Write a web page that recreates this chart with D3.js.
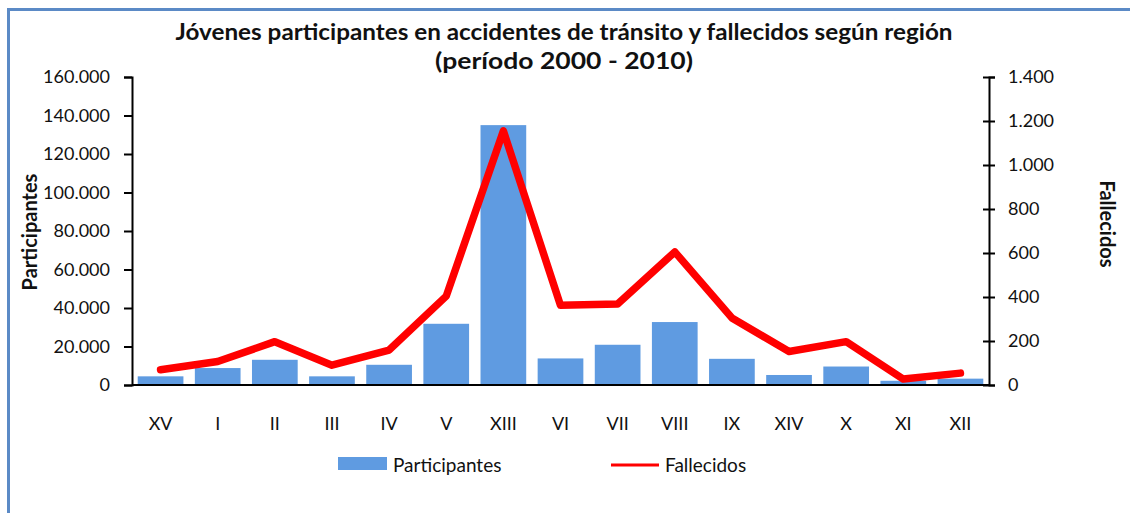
<!DOCTYPE html>
<html>
<head>
<meta charset="utf-8">
<script src="https://cdn.jsdelivr.net/npm/d3@7"></script>
<style>
  body { margin: 0; background: #fff; }
  svg { font-family: Lato, "Open Sans", sans-serif; }
</style>
</head>
<body>
<script>
// regions, in the order of the chart
var regiones = ["XV", "I", "II", "III", "IV", "V", "XIII", "VI", "VII", "VIII", "IX", "XIV", "X", "XI", "XII"];
var participantes = [4500, 8800, 13100, 4500, 10500, 31800, 135000, 13800, 20900, 32700, 13600, 5200, 9600, 2200, 3300];
var fallecidos = [69, 107, 197, 90, 159, 404, 1155, 362, 368, 605, 305, 152, 197, 27, 54];
var leftTicks = [0, 20000, 40000, 60000, 80000, 100000, 120000, 140000, 160000];
var rightTicks = [0, 200, 400, 600, 800, 1000, 1200, 1400];

var W = 1130, H = 513;
var margin = {top: 77, right: 141, bottom: 128, left: 132},
    width = W - margin.left - margin.right,
    height = H - margin.top - margin.bottom;

// thousands with a dot, like the original
var fmt = function(v){ return d3.format(",")(v).replace(/,/g, "."); };

var svg = d3.select("body").append("svg")
    .attr("width", W).attr("height", H);

// frame
svg.append("rect")
    .attr("x", 8.5).attr("y", 9.5)
    .attr("width", W + 20).attr("height", H + 20)
    .attr("fill", "none").attr("stroke", "#5b8ac6").attr("stroke-width", 3);

var title = svg.append("text")
    .attr("text-anchor", "middle")
    .attr("font-weight", "bold").attr("font-size", 23).attr("fill", "#111");
title.append("tspan").attr("x", 564).attr("y", 40)
    .attr("textLength", 777).attr("lengthAdjust", "spacingAndGlyphs")
    .text("Jóvenes participantes  en accidentes  de tránsito y fallecidos  según región");
title.append("tspan").attr("x", 564).attr("y", 69)
    .attr("textLength", 258).attr("lengthAdjust", "spacingAndGlyphs")
    .text("(período 2000 - 2010)");

var g = svg.append("g")
    .attr("transform", "translate(" + margin.left + "," + margin.top + ")");

var x = d3.scaleBand().domain(regiones).range([0, width]).paddingInner(0.2).paddingOuter(0.1);
var yL = d3.scaleLinear().domain([0, 160000]).range([height, 0]);
var yR = d3.scaleLinear().domain([0, 1400]).range([height, 0]);

// bars
g.selectAll(".bar").data(participantes)
  .enter().append("rect").attr("class", "bar")
    .attr("x", function(d, i){ return x(regiones[i]); })
    .attr("y", function(d){ return yL(d); })
    .attr("width", x.bandwidth())
    .attr("height", function(d){ return height - yL(d); })
    .attr("fill", "#5f9be1");

// left axis
var axL = g.append("g").attr("class", "axis")
    .call(d3.axisLeft(yL).tickValues(leftTicks).tickFormat(fmt).tickSize(8).tickPadding(14));
// right axis
var axR = g.append("g").attr("class", "axis")
    .attr("transform", "translate(" + width + ",0)")
    .call(d3.axisRight(yR).tickValues(rightTicks).tickFormat(fmt).tickSize(6).tickPadding(13));
axR.selectAll(".tick line").attr("x1", -6);

// x axis line at zero
var axX = g.append("g").attr("class", "axis")
    .attr("transform", "translate(0," + height + ")")
    .call(d3.axisBottom(x).tickSize(0).tickPadding(32));

g.selectAll(".axis .domain").attr("stroke", "#000").attr("stroke-width", 2);
g.selectAll(".axis .tick line").attr("stroke", "#000").attr("stroke-width", 2);
g.selectAll(".axis text").attr("font-size", 18).attr("fill", "#111")
    .attr("font-family", "Lato, sans-serif");
axX.select(".domain").attr("d", "M0,0H" + width);

// line
var line = d3.line()
    .x(function(d, i){ return x(regiones[i]) + x.bandwidth() / 2; })
    .y(function(d){ return yR(d); });
g.append("path").datum(fallecidos)
    .attr("d", line)
    .attr("fill", "none").attr("stroke", "#ff0000")
    .attr("stroke-width", 7.5).attr("stroke-linejoin", "round").attr("stroke-linecap", "round");

// axis titles
svg.append("text")
    .attr("transform", "translate(37," + 232 + ") rotate(-90)")
    .attr("text-anchor", "middle").attr("font-weight", "bold").attr("font-size", 20).attr("fill", "#111")
    .text("Participantes");
svg.append("text")
    .attr("transform", "translate(1100," + 224 + ") rotate(90)")
    .attr("text-anchor", "middle").attr("font-weight", "bold").attr("font-size", 20).attr("fill", "#111")
    .text("Fallecidos");

// legend
var leg = svg.append("g").attr("font-size", 19).attr("fill", "#111");
leg.append("rect").attr("x", 338).attr("y", 457).attr("width", 49).attr("height", 13).attr("fill", "#5f9be1");
leg.append("text").attr("x", 393).attr("y", 472).text("Participantes");
leg.append("line").attr("x1", 611).attr("x2", 659).attr("y1", 465).attr("y2", 465)
    .attr("stroke", "#ff0000").attr("stroke-width", 3);
leg.append("text").attr("x", 665).attr("y", 472).text("Fallecidos");
</script>
</body>
</html>
